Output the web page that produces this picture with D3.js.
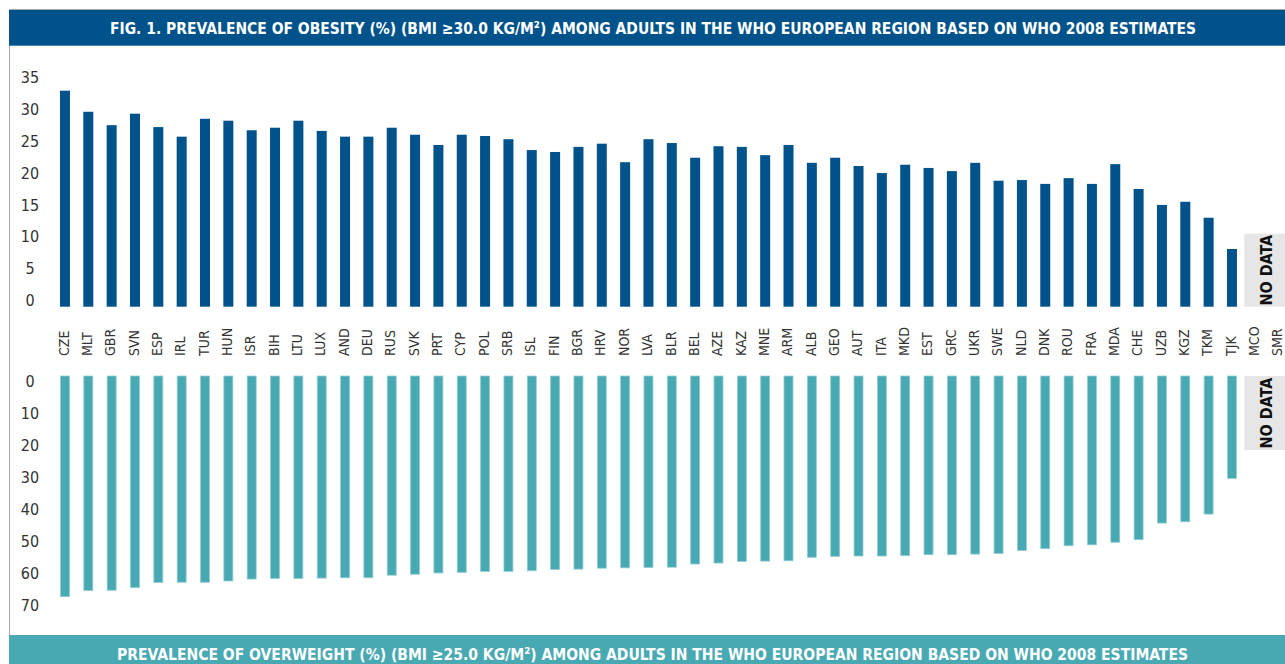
<html>
<head>
    <meta charset="utf-8">
    <script src="https://d3js.org/d3.v7.min.js"></script>
    <style>
        body { margin: 0; background: #fff; }
        svg text { font-family: "Liberation Sans Narrow", "DejaVu Sans Condensed", sans-serif; }
    </style>
</head>

<body>
    <svg id="chart"></svg>

    <script>
        var Width = 1285, Height = 664;

        var countries = ["CZE", "MLT", "GBR", "SVN", "ESP", "IRL", "TUR", "HUN", "ISR", "BIH",
            "LTU", "LUX", "AND", "DEU", "RUS", "SVK", "PRT", "CYP", "POL", "SRB",
            "ISL", "FIN", "BGR", "HRV", "NOR", "LVA", "BLR", "BEL", "AZE", "KAZ",
            "MNE", "ARM", "ALB", "GEO", "AUT", "ITA", "MKD", "EST", "GRC", "UKR",
            "SWE", "NLD", "DNK", "ROU", "FRA", "MDA", "CHE", "UZB", "KGZ", "TKM",
            "TJK", "MCO", "SMR"];

        // obesity (%), null = no data
        var obesity = [32.9, 29.6, 27.5, 29.3, 27.2, 25.7, 28.5, 28.2, 26.7, 27.1,
            28.2, 26.6, 25.7, 25.7, 27.1, 26.0, 24.4, 26.0, 25.8, 25.3,
            23.6, 23.3, 24.1, 24.6, 21.7, 25.3, 24.7, 22.4, 24.2, 24.1,
            22.8, 24.4, 21.6, 22.4, 21.1, 20.0, 21.3, 20.8, 20.3, 21.6,
            18.8, 18.9, 18.3, 19.2, 18.3, 21.4, 17.5, 15.0, 15.5, 13.0,
            8.1, null, null];

        // overweight (%), null = no data
        var overweight = [67.3, 65.4, 65.3, 64.5, 62.9, 62.8, 62.8, 62.4, 61.8, 61.6,
            61.6, 61.5, 61.4, 61.4, 60.6, 60.3, 59.9, 59.7, 59.4, 59.4,
            59.2, 58.8, 58.7, 58.4, 58.3, 58.2, 58.1, 57.1, 56.8, 56.3,
            56.2, 56.1, 55.0, 54.7, 54.6, 54.6, 54.5, 54.2, 54.2, 54.0,
            53.8, 52.9, 52.3, 51.4, 51.1, 50.3, 49.5, 44.3, 43.9, 41.5,
            30.4, null, null];

        var obesityTicks = [0, 5, 10, 15, 20, 25, 30, 35];
        var overweightTicks = [0, 10, 20, 30, 40, 50, 60, 70];
        var noDataCountries = ["MCO", "SMR"];

        var topTitle = "FIG. 1. PREVALENCE OF OBESITY (%) (BMI \u226530.0 KG/M\u00B2) AMONG ADULTS IN THE WHO EUROPEAN REGION BASED ON WHO 2008 ESTIMATES";
        var bottomTitle = "PREVALENCE OF OVERWEIGHT (%) (BMI \u226525.0 KG/M\u00B2) AMONG ADULTS IN THE WHO EUROPEAN REGION BASED ON WHO 2008 ESTIMATES";

        var Navy = "#00528b", Teal = "#48a9b3";

        var svg = d3.select("#chart")
            .attr("width", Width)
            .attr("height", Height);

        var x = d3.scaleBand()
            .domain(countries)
            .range([53.3, 53.3 + 23.34 * countries.length])
            .paddingInner(0.572)
            .paddingOuter(0.286);

        var yTop = d3.scaleLinear()
            .domain([0, 35])
            .range([300.7, 77.3]);

        var yBot = d3.scaleLinear()
            .domain([0, 70])
            .range([381.3, 605.3]);

        // frame lines
        svg.append("line")
            .attr("x1", 9.5).attr("x2", Width)
            .attr("y1", 9.5).attr("y2", 9.5)
            .attr("stroke", "#a8a8a8");
        svg.append("line")
            .attr("x1", 9.5).attr("x2", 9.5)
            .attr("y1", 9.5).attr("y2", Height)
            .attr("stroke", "#a8a8a8");

        // title bands
        svg.append("rect")
            .attr("x", 9).attr("y", 10)
            .attr("width", Width - 9).attr("height", 35.7)
            .attr("fill", Navy);
        svg.append("text")
            .attr("x", 110).attr("y", 34.3)
            .attr("textLength", 1086)
            .attr("lengthAdjust", "spacingAndGlyphs")
            .attr("fill", "#fff")
            .attr("font-weight", "bold")
            .attr("font-size", 16.5)
            .text(topTitle);

        svg.append("rect")
            .attr("x", 9).attr("y", 635)
            .attr("width", Width - 9).attr("height", Height - 635)
            .attr("fill", Teal);
        svg.append("text")
            .attr("x", 117).attr("y", 660)
            .attr("textLength", 1071)
            .attr("lengthAdjust", "spacingAndGlyphs")
            .attr("fill", "#fff")
            .attr("font-weight", "bold")
            .attr("font-size", 16.5)
            .text(bottomTitle);

        // axes (labels only)
        function drawAxis(scale, ticks)
        {
            var g = svg.append("g")
                .attr("transform", "translate(30,0)")
                .call(d3.axisLeft(scale).tickValues(ticks).tickSize(0).tickPadding(0));
            g.select(".domain").remove();
            g.selectAll("text")
                .attr("x", 0)
                .attr("text-anchor", "middle")
                .attr("fill", "#333")
                .attr("font-size", 16)
                .style("font-family", "'Liberation Sans Narrow', 'DejaVu Sans Condensed', sans-serif");
        }
        drawAxis(yTop, obesityTicks);
        drawAxis(yBot, overweightTicks);

        var topData = countries.map(function(c, i){ return {c: c, v: obesity[i]}; })
            .filter(function(d){ return d.v != null; });
        var botData = countries.map(function(c, i){ return {c: c, v: overweight[i]}; })
            .filter(function(d){ return d.v != null; });

        // obesity bars, hanging slightly below the zero label like the original
        svg.selectAll("rect.obese")
            .data(topData)
            .enter()
            .append("rect")
                .attr("class", "obese")
                .attr("x", function(d){ return x(d.c); })
                .attr("width", x.bandwidth())
                .attr("y", function(d){ return yTop(d.v); })
                .attr("height", function(d){ return yTop(0) + 6 - yTop(d.v); })
                .attr("fill", Navy);

        // overweight bars, drawn downwards
        svg.selectAll("rect.over")
            .data(botData)
            .enter()
            .append("rect")
                .attr("class", "over")
                .attr("x", function(d){ return x(d.c) + 0.5; })
                .attr("width", x.bandwidth() - 1)
                .attr("y", yBot(0) - 5.3)
                .attr("height", function(d){ return yBot(d.v) - yBot(0) + 5.3; })
                .attr("fill", Teal)
                .attr("stroke", "#92cfd4")
                .attr("stroke-width", 0.8);

        // country labels
        svg.selectAll("text.cty")
            .data(countries)
            .enter()
            .append("text")
                .attr("class", "cty")
                .attr("transform", function(d){
                    return "translate(" + (x(d) + x.bandwidth() / 2 - 0.5) + ",356) rotate(-90)";
                })
                .attr("dy", "0.3em")
                .attr("fill", "#333")
                .attr("font-size", 14)
                .text(function(d){ return d; });

        // no data boxes
        var ndX = x(noDataCountries[0]) - 6;
        var ndW = x(noDataCountries[1]) + x.bandwidth() + 4 - ndX;
        var boxes = [
            {y: yTop(0) + 6 - 73, h: 73},
            {y: yBot(0) - 5.3, h: 74}
        ];
        boxes.forEach(function(b)
        {
            svg.append("rect")
                .attr("x", ndX).attr("y", b.y)
                .attr("width", ndW).attr("height", b.h)
                .attr("fill", "#e6e6e6");
            svg.append("text")
                .attr("transform", "translate(" + (ndX + ndW / 2) + "," + (b.y + b.h / 2) + ") rotate(-90)")
                .attr("text-anchor", "middle")
                .attr("dy", "0.36em")
                .attr("fill", "#111")
                .attr("font-weight", "bold")
                .attr("font-size", 16)
                .text("NO DATA");
        });
    </script>
</body>
</html>
